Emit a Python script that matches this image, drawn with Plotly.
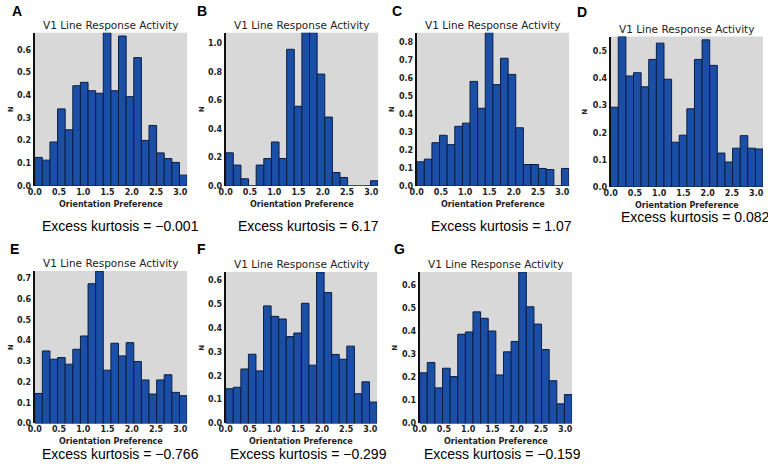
import numpy as np
import plotly.graph_objects as go

# ---------------- data ----------------
panel_letters = ["A", "B", "C", "D", "E", "F", "G"]
kurtosis_values = ["−0.001", "6.17", "1.07", "0.082", "−0.766", "−0.299", "−0.159"]
x_tick_values = [0.0, 0.5, 1.0, 1.5, 2.0, 2.5, 3.0]
x_tick_labels = ["0.0", "0.5", "1.0", "1.5", "2.0", "2.5", "3.0"]
chart_title = "V1 Line Response Activity"
x_title = "Orientation Preference"
y_title = "N"

vals_A = [0.126, 0.114, 0.194, 0.340, 0.248, 0.442, 0.457, 0.420, 0.409, 0.676,
          0.420, 0.661, 0.394, 0.566, 0.201, 0.267, 0.146, 0.121, 0.104, 0.048]
vals_B = [0.233, 0.147, 0.051, 0.0, 0.147, 0.193, 0.309, 0.193, 0.960, 0.560,
          1.077, 1.077, 0.786, 0.484, 0.095, 0.060, 0.0, 0.0, 0.0, 0.037]
vals_C = [0.135, 0.150, 0.242, 0.283, 0.231, 0.333, 0.351, 0.584, 0.434, 0.856,
          0.566, 0.713, 0.623, 0.325, 0.120, 0.120, 0.098, 0.092, 0.0, 0.098]
vals_D = [0.294, 0.554, 0.409, 0.421, 0.369, 0.470, 0.530, 0.397, 0.165, 0.191,
          0.288, 0.470, 0.542, 0.448, 0.125, 0.092, 0.143, 0.189, 0.143, 0.140]
vals_E = [0.145, 0.350, 0.310, 0.318, 0.286, 0.358, 0.422, 0.674, 0.735, 0.257,
          0.387, 0.326, 0.390, 0.299, 0.210, 0.142, 0.210, 0.235, 0.150, 0.134]
vals_F = [0.146, 0.152, 0.229, 0.291, 0.221, 0.494, 0.450, 0.439, 0.365, 0.380,
          0.505, 0.245, 0.636, 0.550, 0.290, 0.270, 0.325, 0.125, 0.175, 0.090]
vals_G = [0.219, 0.264, 0.154, 0.239, 0.203, 0.386, 0.396, 0.483, 0.455, 0.400,
          0.210, 0.310, 0.355, 0.655, 0.505, 0.430, 0.320, 0.185, 0.085, 0.125]
all_values = [vals_A, vals_B, vals_C, vals_D, vals_E, vals_F, vals_G]
y_dticks = [0.1, 0.2, 0.1, 0.1, 0.1, 0.1, 0.1]

n_bins = 20
x_max = np.pi

# ---------------- layout geometry (pixels) ----------------
W, H = 768, 474
plot_x_px = [(28, 182), (221, 375), (414, 568), (610, 764), (28, 182), (221, 374), (417, 571)]
plot_y_px = [(33, 188), (33, 188), (33, 188), (37, 189), (274, 428), (275, 428), (275, 428)]
letter_pos = [(10, 11), (197, 11), (394, 11), (581, 12), (8, 252), (197, 252), (397, 252)]
kurt_pos = [(115, 228), (305, 228), (500, 228), (695, 219), (115, 459), (305, 459), (501, 459)]
ylab_pos = [(4, 112), (197, 112), (389, 112), (584, 112), (4, 352), (197, 352), (392, 352)]

BAR_COLOR = "#1b4fa6"
EDGE_COLOR = "#0b1d45"
BG_COLOR = "#d8d8d8"

def px(x):
    return x / W

def py(y):
    return 1 - y / H

edges = np.linspace(0, x_max, n_bins + 1)
centers = (edges[:-1] + edges[1:]) / 2
bw = edges[1] - edges[0]

fig = go.Figure()
annotations = []
layout_axes = {}

for i, vals in enumerate(all_values):
    k = i + 1
    xa = "x" if k == 1 else f"x{k}"
    ya = "y" if k == 1 else f"y{k}"
    fig.add_trace(go.Bar(
        x=centers, y=vals, width=bw, xaxis=xa, yaxis=ya,
        marker=dict(color=BAR_COLOR, line=dict(color=EDGE_COLOR, width=1)),
        showlegend=False, hoverinfo="skip",
    ))
    x0, x1 = plot_x_px[i]
    y0, y1 = plot_y_px[i]
    xkey = "xaxis" if k == 1 else f"xaxis{k}"
    ykey = "yaxis" if k == 1 else f"yaxis{k}"
    layout_axes[xkey] = dict(
        domain=[px(x0), px(x1)], anchor=ya, range=[0, x_max],
        tickvals=x_tick_values, ticktext=x_tick_labels,
        showgrid=False, zeroline=False, showline=False, ticks="",
        tickfont=dict(family="DejaVu Sans", size=8, color="#222", weight="bold"),
    )
    layout_axes[ykey] = dict(
        domain=[py(y1), py(y0)], anchor=xa, range=[0, max(vals)],
        dtick=y_dticks[i], tick0=0, tickformat=".1f",
        showgrid=False, zeroline=False, showline=True, linecolor="#111", linewidth=2,
        ticks="",
        tickfont=dict(family="DejaVu Sans", size=8, color="#222", weight="bold"),
    )
    cx = (x0 + x1) / 2
    # subplot title
    annotations.append(dict(
        text=chart_title, x=px(cx), y=py(y0 - 8), xref="paper", yref="paper",
        xanchor="center", yanchor="middle", showarrow=False,
        font=dict(family="DejaVu Sans", size=10.5, color="#222"),
    ))
    # x axis title
    annotations.append(dict(
        text=x_title, x=px(cx), y=py(y1 + 18.5), xref="paper", yref="paper",
        xanchor="center", yanchor="middle", showarrow=False,
        font=dict(family="DejaVu Sans", size=8, color="#222", weight="bold"),
    ))
    # y axis title
    lx, ly = ylab_pos[i]
    annotations.append(dict(
        text=y_title, x=px(lx), y=py((y0 + y1) / 2), xref="paper", yref="paper",
        xanchor="center", yanchor="middle", showarrow=False, textangle=-90,
        font=dict(family="DejaVu Sans", size=7, color="#222", weight="bold"),
    ))
    # panel letter
    ax_, ay_ = letter_pos[i]
    annotations.append(dict(
        text=f"<b>{panel_letters[i]}</b>", x=px(ax_), y=py(ay_), xref="paper", yref="paper",
        xanchor="center", yanchor="middle", showarrow=False,
        font=dict(family="Liberation Sans", size=14, color="#000"),
    ))
    # kurtosis text
    kx, ky = kurt_pos[i]
    annotations.append(dict(
        text=f"Excess kurtosis = {kurtosis_values[i]}", x=px(kx), y=py(ky),
        xref="paper", yref="paper", xanchor="center", yanchor="middle", showarrow=False,
        font=dict(family="Liberation Sans", size=14, color="#000"),
    ))

# plot backgrounds as shapes (one per panel)
shapes = []
for i in range(len(all_values)):
    x0, x1 = plot_x_px[i]
    y0, y1 = plot_y_px[i]
    shapes.append(dict(type="rect", xref="paper", yref="paper",
                       x0=px(x0), x1=px(x1), y0=py(y1), y1=py(y0),
                       fillcolor=BG_COLOR, line=dict(width=0), layer="below"))

fig.update_layout(
    width=W, height=H, margin=dict(l=0, r=0, t=0, b=0),
    paper_bgcolor="white", plot_bgcolor="rgba(0,0,0,0)",
    bargap=0, annotations=annotations, shapes=shapes,
    **layout_axes,
)

fig.write_html(
    "out.html",
    config={"displayModeBar": False, "staticPlot": True},
    post_script="document.body.style.margin='0px';document.body.style.overflow='hidden';",
)
